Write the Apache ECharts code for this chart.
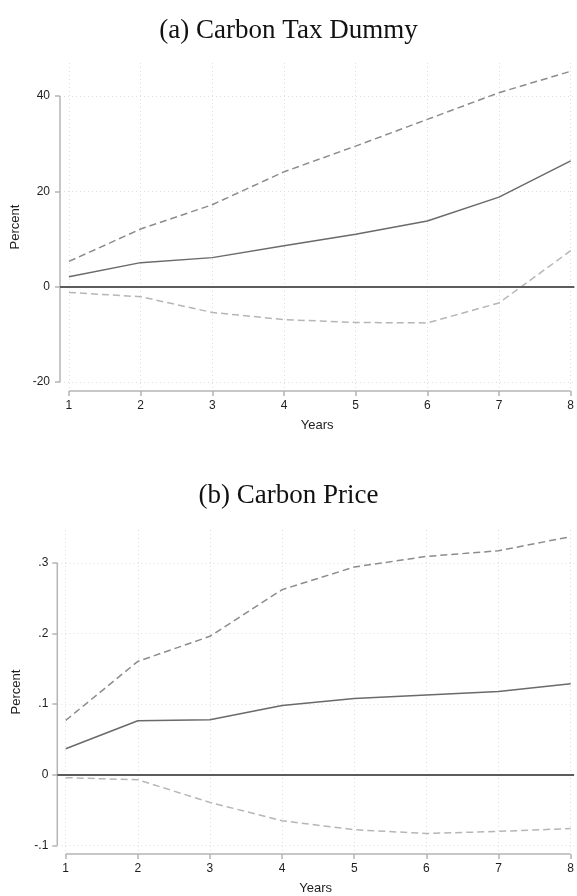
<!DOCTYPE html>
<html><head><meta charset="utf-8">
<script src="https://cdn.jsdelivr.net/npm/echarts@6/dist/echarts.min.js"></script>
<style>html,body{margin:0;padding:0;background:#fff}#c{width:577px;height:896px}</style>
</head><body><div id="c"></div>
<script>
// ---- data ----
const years = [1, 2, 3, 4, 5, 6, 7, 8];
const yearTicks = [1, 2, 3, 4, 5, 6, 7, 8];

// Panel (a) Carbon Tax Dummy
const dummyEst   = [2.1, 5.05, 6.1, 8.6, 11.0, 13.8, 18.8, 26.4];
const dummyUpper = [5.3, 12.1, 17.2, 24.1, 29.5, 35.1, 40.7, 45.2];
const dummyLower = [-1.2, -2.1, -5.4, -6.9, -7.5, -7.6, -3.4, 7.55];
const dummyTicks = [-20, 0, 20, 40];

// Panel (b) Carbon Price
const priceEst   = [0.037, 0.0765, 0.078, 0.098, 0.108, 0.113, 0.118, 0.129];
const priceUpper = [0.077, 0.1605, 0.196, 0.262, 0.294, 0.309, 0.317, 0.337];
const priceLower = [-0.004, -0.007, -0.039, -0.065, -0.0776, -0.083, -0.080, -0.076];
const priceTicks = [-0.1, 0, 0.1, 0.2, 0.3];
const priceTickLabels = ['-.1', '0', '.1', '.2', '.3'];

const titles = ['(a) Carbon Tax Dummy', '(b) Carbon Price'];
const xTitle = 'Years';
const yTitle = 'Percent';

// ---- style / layout ----
const axisColor = '#b4b4b4';
const gridColor = '#dedede';
const labelColor = '#1e1e1e';
const solidColor = '#6a6a6a';
const upperColor = '#8c8c8c';
const lowerColor = '#b6b6b6';
const zeroColor = '#5c5c5c';

const panels = [
  { est: dummyEst, up: dummyUpper, lo: dummyLower, ticks: dummyTicks, fmt: v => String(v),
    xMin: 0.875, xMax: 8.052, yMin: -21.88, yMax: 46.93,
    grid: { left: 60, top: 63, width: 516, height: 328 }, yNameGap: 33, yLabelMargin: 10 },
  { est: priceEst, up: priceUpper, lo: priceLower, ticks: priceTicks,
    fmt: v => priceTickLabels[priceTicks.findIndex(t => Math.abs(t - v) < 1e-9)] ?? String(v),
    xMin: 0.884, xMax: 8.048, yMin: -0.112, yMax: 0.3464,
    grid: { left: 57.3, top: 530, width: 518.7, height: 327.3 }, yNameGap: 31, yLabelMargin: 9 }
];

const pairs = (xs, ys) => xs.map((x, i) => [x, ys[i]]);

const option = {
  animation: false,
  backgroundColor: '#fff',
  title: [
    { text: titles[0], left: 'center', top: 12,
      textStyle: { fontFamily: 'Liberation Serif', fontSize: 27, fontWeight: 'normal', color: '#111' } },
    { text: titles[1], left: 'center', top: 477,
      textStyle: { fontFamily: 'Liberation Serif', fontSize: 27, fontWeight: 'normal', color: '#111' } }
  ],
  grid: panels.map(p => Object.assign({ containLabel: false }, p.grid)),
  xAxis: panels.map((p, i) => ({
    gridIndex: i, type: 'value', min: p.xMin, max: p.xMax, position: 'bottom',
    name: xTitle, nameLocation: 'middle', nameGap: 28,
    nameTextStyle: { fontFamily: 'Liberation Sans', fontSize: 13, color: labelColor },
    axisLine: { show: false, onZero: false },
    axisTick: { show: true, customValues: yearTicks, length: 5, lineStyle: { color: axisColor, width: 1.5 } },
    axisLabel: { customValues: yearTicks, margin: 9, fontFamily: 'Liberation Sans', fontSize: 12, color: labelColor },
    splitLine: { show: true, lineStyle: { type: [1, 3], color: gridColor, width: 1 } }
  })),
  yAxis: panels.map((p, i) => ({
    gridIndex: i, type: 'value', min: p.yMin, max: p.yMax, position: 'left',
    name: yTitle, nameLocation: 'middle', nameGap: p.yNameGap, nameRotate: 90,
    nameTextStyle: { fontFamily: 'Liberation Sans', fontSize: 13, color: labelColor },
    axisLine: { show: false, onZero: false },
    axisTick: { show: true, customValues: p.ticks, length: 5, lineStyle: { color: axisColor, width: 1.5 } },
    axisLabel: { customValues: p.ticks, margin: p.yLabelMargin, fontFamily: 'Liberation Sans', fontSize: 12,
      color: labelColor, formatter: p.fmt },
    splitLine: { show: true, lineStyle: { type: [1, 3], color: gridColor, width: 1 } }
  })),
  series: []
};

panels.forEach((p, i) => {
  const base = { type: 'line', xAxisIndex: i, yAxisIndex: i, symbol: 'none', silent: true };
  // axis lines, spanning tick range (Stata style)
  option.series.push(Object.assign({}, base, {
    clip: false, z: 1,
    data: [[p.xMin, p.ticks[0]], [p.xMin, p.ticks[p.ticks.length - 1]]],
    lineStyle: { color: axisColor, width: 1.5 }
  }));
  option.series.push(Object.assign({}, base, {
    clip: false, z: 1,
    data: [[yearTicks[0], p.yMin], [yearTicks[yearTicks.length - 1], p.yMin]],
    lineStyle: { color: axisColor, width: 1.5 }
  }));
  option.series.push(Object.assign({}, base, {
    data: pairs(years, p.est), z: 3,
    lineStyle: { color: solidColor, width: 1.5 },
    markLine: { silent: true, symbol: ['none', 'none'], label: { show: false },
      lineStyle: { type: 'solid', color: zeroColor, width: 2 }, data: [{ yAxis: 0 }] }
  }));
  option.series.push(Object.assign({}, base, {
    data: pairs(years, p.up), z: 3,
    lineStyle: { color: upperColor, width: 1.5, type: [7, 4] }
  }));
  option.series.push(Object.assign({}, base, {
    data: pairs(years, p.lo), z: 3,
    lineStyle: { color: lowerColor, width: 1.5, type: [7, 4] }
  }));
});

const chart = echarts.init(document.getElementById('c'), null, { renderer: 'canvas' });
chart.setOption(option);
</script>
</body></html>
